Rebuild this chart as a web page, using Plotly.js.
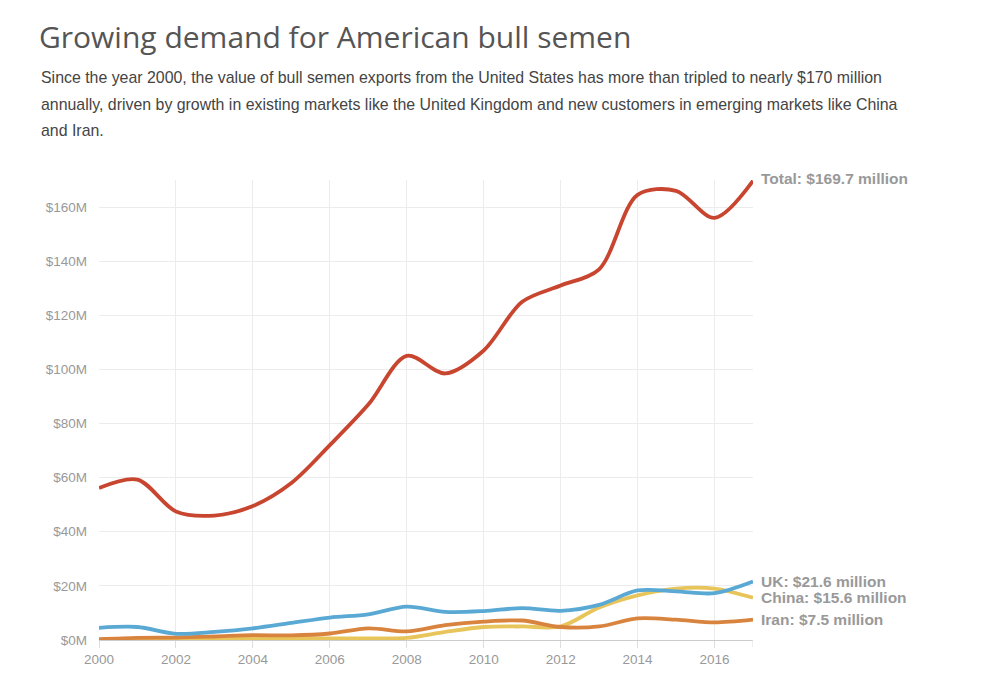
<!DOCTYPE html>
<html>
<head>
<meta charset="utf-8">
<script src="https://cdn.plot.ly/plotly-3.0.1.min.js"></script>
<style>
html,body{margin:0;padding:0;background:#fff;}
#chart{width:1000px;height:684px;}
</style>
</head>
<body>
<div id="chart"></div>
<script>
const years = [2000,2001,2002,2003,2004,2005,2006,2007,2008,2009,2010,2011,2012,2013,2014,2015,2016,2017];
const total = [56.2,59.3,47.5,46,49.5,58,72,87,105,98.5,107,125,131,137,164.5,166,156,169.7];
const uk    = [4.5,4.8,2.3,3,4.3,6.3,8.3,9.5,12.3,10.4,10.7,11.8,10.8,13,18.3,18,17.3,21.6];
const china = [0,0.2,0.3,0.4,0.5,0.5,0.6,0.6,0.8,3,4.8,5,5,12,16.5,19,19,15.6];
const iran  = [0.3,0.8,0.9,1.3,1.8,1.7,2.4,4.3,3.2,5.5,6.8,7.2,4.8,5,8,7.5,6.5,7.5];
const names = ["Total","UK","China","Iran"];
const endLabels = ["Total: $169.7 million","UK: $21.6 million","China: $15.6 million","Iran: $7.5 million"];
const colors = ["#c8452f","#59a9d4","#e8c55a","#d9843e"];
const yTicks = [0,20,40,60,80,100,120,140,160];
const yTickText = ["$0M","$20M","$40M","$60M","$80M","$100M","$120M","$140M","$160M"];
const xTicks = [2000,2002,2004,2006,2008,2010,2012,2014,2016];
const subtitleLines = [
  "Since the year 2000, the value of bull semen exports from the United States has more than tripled to nearly $170 million",
  "annually, driven by growth in existing markets like the United Kingdom and new customers in emerging markets like China",
  "and Iran."
];

const series = [total, uk, china, iran];
const order = [2,3,1,0];
const traces = order.map(i => ({
  x: years, y: series[i], type: 'scatter', mode: 'lines', name: names[i],
  line: {color: colors[i], width: 3.8, shape: 'spline', smoothing: 0.9},
  hoverinfo: 'x+y', cliponaxis: false
}));

const labelY = [169.7, 21.6, 15.6, 7.5];
const labelShift = [2, 0, 0, 0];
const annotations = endLabels.map((t,i) => ({
  x: years[years.length-1], y: labelY[i], xref: 'x', yref: 'y',
  text: t, showarrow: false, xanchor: 'left', yanchor: 'middle', xshift: 6, yshift: labelShift[i],
  font: {family: 'Liberation Sans, Arial, sans-serif', size: 15.5, color: '#999999', weight: 700}
}));
const subY = [78, 104, 130];
subtitleLines.forEach((t, k) => {
  annotations.push({
    xref: 'paper', yref: 'paper', x: (39-99)/654, y: (640-subY[k])/460, xanchor: 'left', yanchor: 'middle',
    showarrow: false, align: 'left', text: t,
    font: {family: 'Liberation Sans, Arial, sans-serif', size: 15.9, color: '#444444'}
  });
});

const layout = {
  width: 1000, height: 684,
  margin: {l: 99, r: 247, t: 180, b: 44},
  paper_bgcolor: '#ffffff', plot_bgcolor: '#ffffff',
  showlegend: false,
  title: {text: 'Growing demand for American bull semen', xref: 'container', yref: 'container',
    x: 39/1000, xanchor: 'left', y: 1 - 37/684, yanchor: 'middle',
    font: {family: 'Open Sans, sans-serif', size: 30, color: '#555555', weight: 400}},
  xaxis: {
    range: [2000, 2017], tickvals: xTicks, ticktext: xTicks.map(String),
    showgrid: true, gridcolor: '#ececec', gridwidth: 1,
    showline: true, linecolor: '#cccccc', linewidth: 1,
    ticks: 'outside', ticklen: 7, tickcolor: '#dddddd',
    tickfont: {family: 'Liberation Sans, Arial, sans-serif', size: 13.5, color: '#999999'},
    zeroline: false, fixedrange: true
  },
  yaxis: {
    range: [0, 170], tickvals: yTicks, ticktext: yTickText,
    showgrid: true, gridcolor: '#ececec', gridwidth: 1,
    showline: false, ticks: '', ticklabelstandoff: 11,
    tickfont: {family: 'Liberation Sans, Arial, sans-serif', size: 13.5, color: '#999999'},
    zeroline: false, fixedrange: true
  },
  shapes: [{type: 'line', xref: 'x', yref: 'paper', x0: 2017, x1: 2017, y0: 0, y1: -7/460, line: {color: '#dddddd', width: 1}}],
  annotations: annotations
};

Plotly.newPlot('chart', traces, layout, {displayModeBar: false, staticPlot: true});
</script>
</body>
</html>
